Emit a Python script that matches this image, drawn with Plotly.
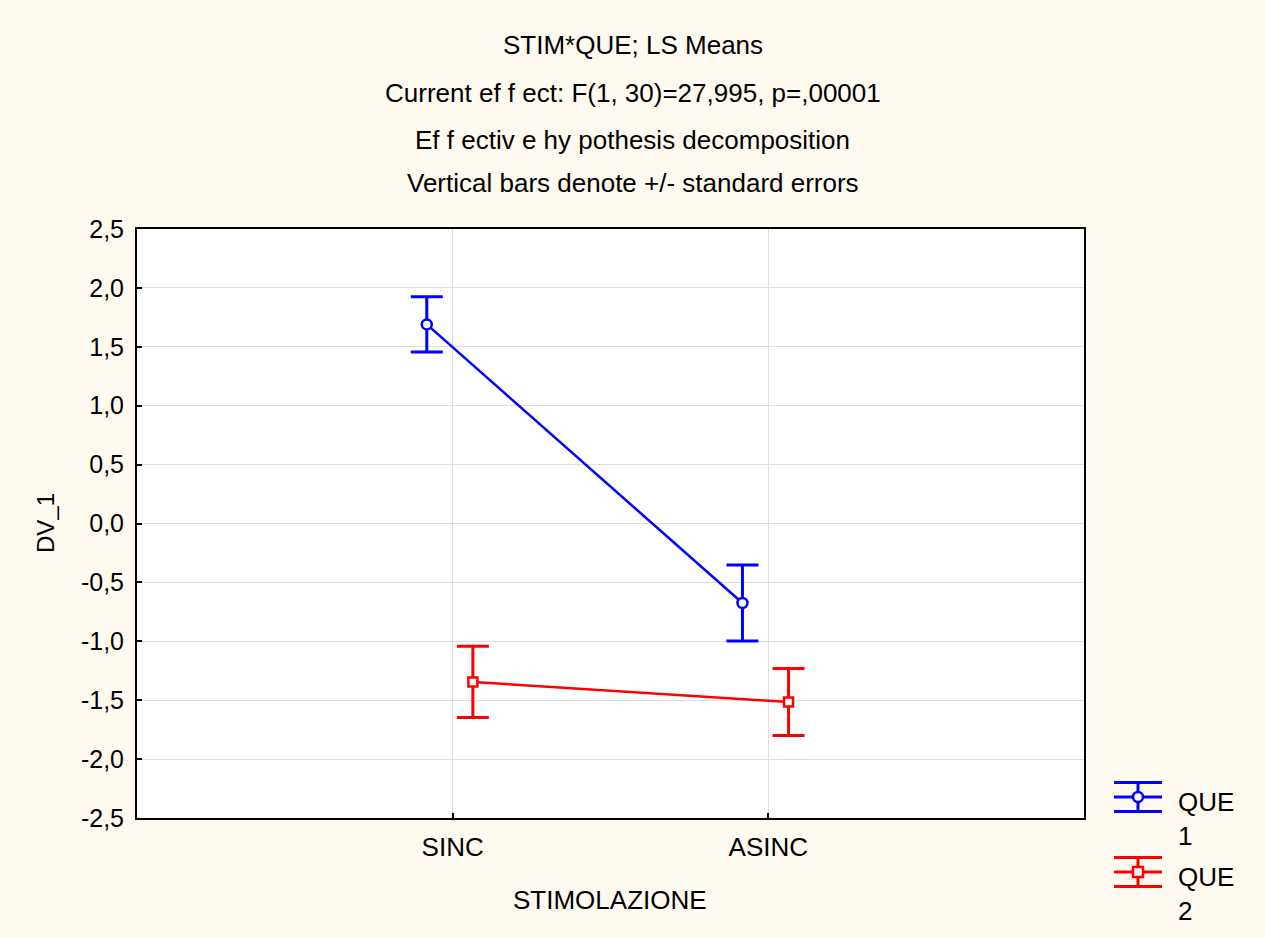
import plotly.graph_objects as go
import numpy as np

# ---- data ----
categories = ["SINC", "ASINC"]
que1_means = [1.69, -0.675]
que1_se = [0.235, 0.322]
que2_means = [-1.345, -1.515]
que2_se = [0.302, 0.285]
y_tickvals = [2.5, 2.0, 1.5, 1.0, 0.5, 0.0, -0.5, -1.0, -1.5, -2.0, -2.5]
y_ticktext = ["2,5", "2,0", "1,5", "1,0", "0,5", "0,0", "-0,5", "-1,0", "-1,5", "-2,0", "-2,5"]
title_lines = [
    "STIM*QUE; LS Means",
    "Current ef f ect: F(1, 30)=27,995, p=,00001",
    "Ef f ectiv e hy pothesis decomposition",
    "Vertical bars denote +/- standard errors",
]
legend_labels = ["QUE<br>1", "QUE<br>2"]

# ---- style ----
BLUE = "rgb(0,0,255)"
RED = "rgb(255,0,0)"
FONT = "Liberation Sans, Arial, sans-serif"
PAPER_BG = "#FFFAF0"
GRID = "#dedede"

L, R, T, B = 137, 181, 229, 120
W, H = 1265, 938
pw, ph = W - L - R, H - T - B

def px_x(px):
    return (px - L) / pw

def px_y(py):
    return (H - B - py) / ph

xpos = np.arange(len(categories))
off1, off2 = -0.082, 0.064

fig = go.Figure()
fig.add_trace(go.Scatter(
    x=xpos + off1, y=que1_means, mode="lines+markers",
    line=dict(color=BLUE, width=2.5),
    marker=dict(symbol="circle", size=10, color="white", line=dict(color=BLUE, width=2.5)),
    error_y=dict(type="data", array=que1_se, color=BLUE, thickness=3, width=16),
    showlegend=False,
))
fig.add_trace(go.Scatter(
    x=xpos + off2, y=que2_means, mode="lines+markers",
    line=dict(color=RED, width=2.5),
    marker=dict(symbol="square", size=9, color="white", line=dict(color=RED, width=2.5)),
    error_y=dict(type="data", array=que2_se, color=RED, thickness=3, width=16),
    showlegend=False,
))

# title lines
for txt, py in zip(title_lines, [45, 93, 140, 183]):
    fig.add_annotation(text=txt, x=px_x(W / 2), y=px_y(py), xref="paper", yref="paper",
                       xanchor="center", yanchor="middle", showarrow=False,
                       font=dict(family=FONT, size=26, color="black"))

# axis titles
fig.add_annotation(text="DV_1", x=px_x(45), y=px_y(523), xref="paper", yref="paper",
                   textangle=-90, xanchor="center", yanchor="middle", showarrow=False,
                   font=dict(family=FONT, size=24, color="black"))
fig.add_annotation(text="STIMOLAZIONE", x=px_x(610), y=px_y(900), xref="paper", yref="paper",
                   xanchor="center", yanchor="middle", showarrow=False,
                   font=dict(family=FONT, size=26, color="black"))

# custom legend glyphs
shapes = []
for color, cy, sym in [(BLUE, 797, "circle"), (RED, 872, "rect")]:
    for dy in (-14.5, 0, 14.5):
        shapes.append(dict(type="line", xref="paper", yref="paper",
                           x0=px_x(1114), x1=px_x(1162), y0=px_y(cy + dy), y1=px_y(cy + dy),
                           line=dict(color=color, width=3)))
    shapes.append(dict(type="line", xref="paper", yref="paper",
                       x0=px_x(1138), x1=px_x(1138), y0=px_y(cy - 14.5), y1=px_y(cy + 14.5),
                       line=dict(color=color, width=3)))
    shapes.append(dict(type=sym, xref="paper", yref="paper",
                       xsizemode="pixel", ysizemode="pixel",
                       xanchor=px_x(1138), yanchor=px_y(cy),
                       x0=-5, x1=5, y0=-5, y1=5,
                       fillcolor="white", line=dict(color=color, width=2.5)))
for lab, cy in zip(legend_labels, [819, 894]):
    fig.add_annotation(text=lab, x=px_x(1176), y=px_y(cy), xref="paper", yref="paper",
                       xanchor="left", yanchor="middle", align="left", showarrow=False,
                       font=dict(family=FONT, size=26, color="black"))

fig.update_layout(
    width=W, height=H,
    margin=dict(l=L, r=R, t=T, b=B, autoexpand=False),
    paper_bgcolor=PAPER_BG, plot_bgcolor="white",
    font=dict(family=FONT, size=24, color="black"),
    shapes=shapes,
    xaxis=dict(range=[-1, 2], tickvals=list(xpos), ticktext=categories,
               showgrid=True, gridcolor=GRID, gridwidth=1,
               showline=True, linecolor="black", linewidth=2, mirror=True,
               ticks="inside", ticklen=5, tickcolor="black", tickwidth=2,
               zeroline=False, ticklabelstandoff=5,
               tickfont=dict(family=FONT, size=26)),
    yaxis=dict(range=[-2.5, 2.5], tickvals=y_tickvals, ticktext=y_ticktext,
               showgrid=True, gridcolor=GRID, gridwidth=1,
               showline=True, linecolor="black", linewidth=2, mirror=True,
               ticks="inside", ticklen=5, tickcolor="black", tickwidth=2,
               zeroline=False, ticklabelstandoff=6,
               tickfont=dict(family=FONT, size=25)),
)

fig.write_html(
    "out.html",
    config={"displayModeBar": False},
    post_script="document.body.style.margin='0';document.body.style.overflow='hidden';"
                "document.body.style.background='" + PAPER_BG + "';",
)
